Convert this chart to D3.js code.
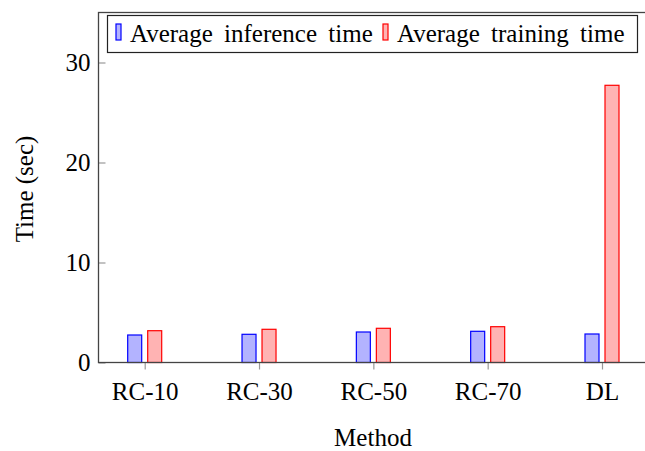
<!DOCTYPE html>
<head>
    <script src="https://d3js.org/d3.v7.js"></script>
    <style>
        body{
            margin: 0;
            background: white;
        }
        text{
            font-family: "Liberation Serif", "DejaVu Serif", serif;
            fill: black;
        }
    </style>
</head>
<html>
    <body>
        <div class = "graph">
            <script>
                // data
                const methods = ['RC-10', 'RC-30', 'RC-50', 'RC-70', 'DL']
                const inferenceTime = [2.75, 2.82, 3.05, 3.12, 2.85]
                const trainingTime = [3.18, 3.32, 3.42, 3.58, 27.72]
                const yTicks = [0, 10, 20, 30]
                const seriesNames = ['Average inference time', 'Average training time']

                const w = 645
                const h = 451
                const plotLeft = 98.5
                const plotTop = 12.5
                const plotBottom = 362.5
                const plotRight = 650
                const fontSize = 25

                const series = [
                    {name: seriesNames[0], values: inferenceTime, stroke: '#0000ff', fill: '#b3b3ff', offset: -10},
                    {name: seriesNames[1], values: trainingTime, stroke: '#ff0000', fill: '#ffb3b3', offset: 10}
                ]

                const xScale = d3.scalePoint()
                                .domain(methods)
                                .range([144.7, 602])

                const yScale = d3.scaleLinear()
                                .domain([0, 35])
                                .range([plotBottom, plotTop])

                const svg = d3.select('.graph')
                    .append('svg')
                    .attr('width', w)
                    .attr('height', h)

                // bars
                const barW = 14
                series.forEach(s => {
                    svg.append('g')
                        .selectAll('rect')
                        .data(s.values)
                        .enter()
                        .append('rect')
                        .attr('x', (d, i) => xScale(methods[i]) + s.offset - barW / 2)
                        .attr('y', d => yScale(d))
                        .attr('width', barW)
                        .attr('height', d => yScale(0) - yScale(d))
                        .style('fill', s.fill)
                        .style('stroke', s.stroke)
                        .style('stroke-width', 1.2)
                })

                // x axis ticks (outside) and labels
                const xAxis = d3.axisBottom(xScale)
                                .tickSize(7)
                                .tickPadding(13)
                const gx = svg.append('g')
                    .attr('transform', 'translate(0,' + plotBottom + ')')
                    .call(xAxis)
                gx.select('.domain').remove()
                gx.selectAll('line').style('stroke', '#999').style('stroke-width', 1.2)
                gx.selectAll('text').style('font-size', fontSize + 'px')

                // y axis ticks (inside) and labels
                const yAxis = d3.axisLeft(yScale)
                                .tickValues(yTicks)
                                .tickSize(-7)
                                .tickPadding(8)
                const gy = svg.append('g')
                    .attr('transform', 'translate(' + plotLeft + ',0)')
                    .call(yAxis)
                gy.select('.domain').remove()
                gy.selectAll('line').style('stroke', '#999').style('stroke-width', 1.2)
                gy.selectAll('text').style('font-size', fontSize + 'px')

                // frame
                svg.append('rect')
                    .attr('x', plotLeft)
                    .attr('y', plotTop)
                    .attr('width', plotRight - plotLeft)
                    .attr('height', plotBottom - plotTop)
                    .style('fill', 'none')
                    .style('stroke', '#444')
                    .style('stroke-width', 1.3)

                // axis titles
                svg.append('text')
                    .attr('x', 373)
                    .attr('y', 446)
                    .attr('text-anchor', 'middle')
                    .style('font-size', fontSize + 'px')
                    .text('Method')

                svg.append('text')
                    .attr('transform', 'translate(33,' + 189 + ') rotate(-90)')
                    .attr('text-anchor', 'middle')
                    .style('font-size', fontSize + 'px')
                    .text('Time (sec)')

                // legend
                const legend = svg.append('g')
                legend.append('rect')
                    .attr('x', 107.5)
                    .attr('y', 15.5)
                    .attr('width', 530)
                    .attr('height', 37)
                    .style('fill', 'white')
                    .style('stroke', '#222')
                    .style('stroke-width', 1.2)

                const itemX = [116, 383]
                series.forEach((s, i) => {
                    legend.append('rect')
                        .attr('x', itemX[i])
                        .attr('y', 24)
                        .attr('width', 5)
                        .attr('height', 16)
                        .style('fill', s.fill)
                        .style('stroke', s.stroke)
                        .style('stroke-width', 1.2)
                    legend.append('text')
                        .attr('x', itemX[i] + 14)
                        .attr('y', 42)
                        .style('font-size', fontSize + 'px')
                        .style('word-spacing', '5px')
                        .text(s.name)
                })
            </script>
        </div>
    </body>
</html>
